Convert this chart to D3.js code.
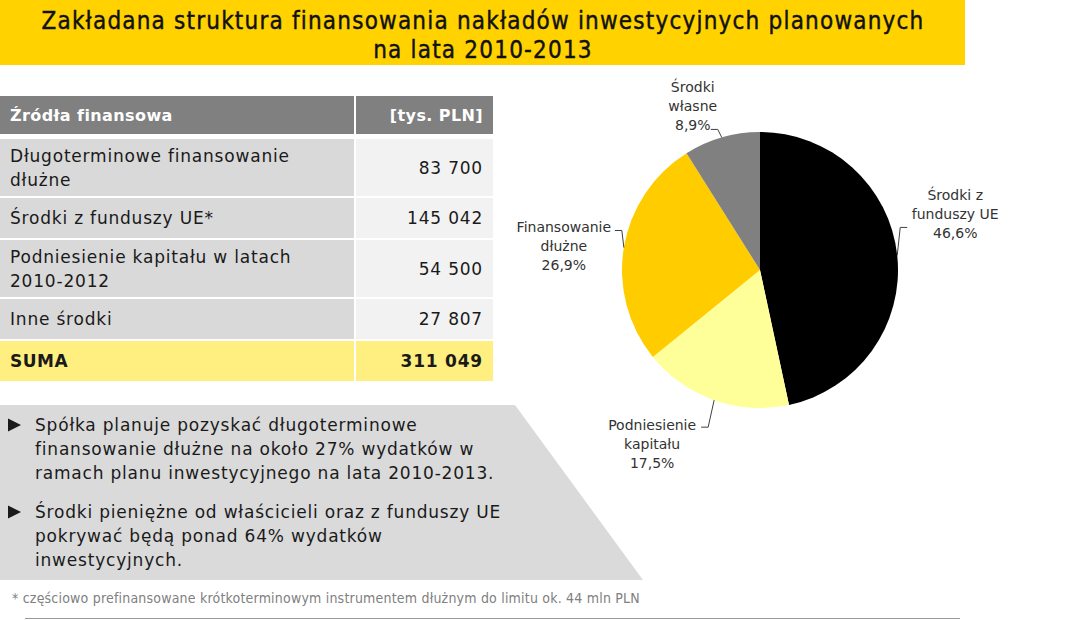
<!DOCTYPE html>
<html>
<head>
<meta charset="utf-8">
<script src="https://cdn.jsdelivr.net/npm/d3@7"></script>
<style>
  body { margin: 0; background: #fff; }
  svg { display: block; }
</style>
</head>
<body>
<svg id="chart"></svg>
<script>
const W = 1075, H = 620;

// dane
const titleLines = ["Zakładana struktura finansowania nakładów inwestycyjnych planowanych", "na lata 2010-2013"];
const headers = ["Źródła finansowa", "[tys. PLN]"];
const sources = [["Długoterminowe finansowanie", "dłużne"], ["Środki z funduszy UE*"], ["Podniesienie kapitału w latach", "2010-2012"], ["Inne środki"]];
const amounts = [83700, 145042, 54500, 27807];
const totalLabel = "SUMA";

const pieNames = [["Środki z", "funduszy UE"], ["Podniesienie", "kapitału"], ["Finansowanie", "dłużne"], ["Środki", "własne"]];
const pieAmounts = [145042, 54500, 83700, 27807];
const pieColors = ["#000000", "#FFFF99", "#FFCC00", "#808080"];

const bullets = [
  ["Spółka planuje pozyskać długoterminowe", "finansowanie dłużne na około 27% wydatków w", "ramach planu inwestycyjnego na lata 2010-2013."],
  ["Środki pieniężne od właścicieli oraz z funduszy UE", "pokrywać będą ponad 64% wydatków", "inwestycyjnych."]
];
const footnote = "* częściowo prefinansowane krótkoterminowym instrumentem dłużnym do limitu ok. 44 mln PLN";

const pl = d3.formatLocale({ decimal: ",", thousands: " ", grouping: [3], currency: ["", ""] });
const fmtNum = pl.format(",d");
const fmtPct = pl.format(".1f");

const svg = d3.select("#chart").attr("width", W).attr("height", H);
const FONT = "'DejaVu Sans', sans-serif";
const COND = "'DejaVu Sans Condensed', 'DejaVu Sans', sans-serif";

// tytuł
svg.append("rect").attr("x", 0).attr("y", 0).attr("width", 965).attr("height", 65).attr("fill", "#FFD200");
svg.selectAll("text.title").data(titleLines).enter().append("text")
  .attr("class", "title")
  .attr("x", 483).attr("y", (d, i) => 29 + i * 29)
  .attr("text-anchor", "middle")
  .style("font-family", COND)
  .style("font-stretch", "condensed")
  .style("font-size", "24px")
  .style("letter-spacing", "1.2px")
  .attr("fill", "#111").attr("stroke", "#111").attr("stroke-width", 0.4)
  .text(d => d);

// tabela
const colSplit = 354, col2 = 356, tableRight = 493;
const tbl = svg.append("g");
tbl.append("rect").attr("x", 0).attr("y", 96).attr("width", colSplit).attr("height", 38).attr("fill", "#808080");
tbl.append("rect").attr("x", col2).attr("y", 96).attr("width", tableRight - col2).attr("height", 38).attr("fill", "#808080");
tbl.append("text").attr("x", 10).attr("y", 121).text(headers[0])
  .style("font-family", FONT).style("font-size", "16px").style("font-weight", "bold")
  .style("letter-spacing", "0.4px").attr("fill", "#fff");
tbl.append("text").attr("x", 483).attr("y", 121).attr("text-anchor", "end").text(headers[1])
  .style("font-family", FONT).style("font-size", "16px").style("font-weight", "bold")
  .style("letter-spacing", "0.4px").attr("fill", "#fff");

const rows = sources.map((s, i) => ({ lines: s, value: amounts[i], total: false }));
rows.push({ lines: [totalLabel], value: d3.sum(amounts), total: true });
let yy = 139;
rows.forEach(r => { r.h = r.lines.length === 2 ? 57 : 40; r.y = yy; yy += r.h + 2; });

const rg = tbl.selectAll("g.row").data(rows).enter().append("g").attr("class", "row")
  .attr("transform", d => `translate(0,${d.y})`);
rg.append("rect").attr("x", 0).attr("width", colSplit).attr("height", d => d.h)
  .attr("fill", d => d.total ? "#FFEF80" : "#D9D9D9");
rg.append("rect").attr("x", col2).attr("width", tableRight - col2).attr("height", d => d.h)
  .attr("fill", d => d.total ? "#FFEF80" : "#F2F2F2");
rg.each(function (d) {
  const g = d3.select(this);
  const n = d.lines.length;
  g.selectAll("text.lab").data(d.lines).enter().append("text")
    .attr("x", 10)
    .attr("y", (t, i) => d.h / 2 + 6 + (i - (n - 1) / 2) * 24)
    .style("font-family", FONT).style("font-size", "17px")
    .style("font-weight", d.total ? "bold" : "normal")
    .style("letter-spacing", d.total ? "0.5px" : "0.8px")
    .attr("fill", "#1a1a1a")
    .text(t => t);
  g.append("text").attr("x", 483).attr("y", d.h / 2 + 6).attr("text-anchor", "end")
    .style("font-family", FONT).style("font-size", "17px")
    .style("font-weight", d.total ? "bold" : "normal")
    .style("letter-spacing", "0.8px")
    .attr("fill", "#1a1a1a")
    .text(fmtNum(d.value));
});

// panel z punktami
svg.append("path").attr("d", "M0,405 L515,405 L643,580 L0,580 Z").attr("fill", "#DADADA");
const bg = svg.selectAll("g.bullet").data(bullets).enter().append("g").attr("class", "bullet")
  .attr("transform", (d, i) => `translate(0,${[425, 512][i]})`);
bg.append("path").attr("d", "M8,-6.5 L21,0 L8,6.5 Z").attr("fill", "#1a1a1a");
bg.selectAll("text").data(d => d).enter().append("text")
  .attr("x", 35).attr("y", (d, i) => 6 + i * 24)
  .style("font-family", FONT).style("font-size", "17px")
  .style("letter-spacing", "0.8px").attr("fill", "#1a1a1a")
  .text(d => d);

// wykres kołowy
const cx = 760, cy = 270, R = 138;
const pie = d3.pie().sort(null).value(d => d)(pieAmounts);
const arc = d3.arc().innerRadius(0).outerRadius(R);
const total = d3.sum(pieAmounts);
const pg = svg.append("g").attr("transform", `translate(${cx},${cy})`);
pg.selectAll("path.slice").data(pie).enter().append("path").attr("class", "slice")
  .attr("d", arc).attr("fill", (d, i) => pieColors[i]);

// układ etykiet: załamanie linii względem krawędzi, koniec linii, środek tekstu, pierwsza linia
const labelLayout = [
  { ex: 3, ey: -28, hx: 7, tx: 48, ty: -27 },
  { ex: -6, ey: 27, hx: -7, tx: -49, ty: 3 },
  { ex: -2, ey: -17, hx: -7, tx: -51, ty: 1 },
  { ex: -4, ey: -8, hx: -7, tx: -18, ty: -37 }
];
pie.forEach((d, i) => {
  const a = (d.startAngle + d.endAngle) / 2;
  const px = Math.sin(a) * R, py = -Math.cos(a) * R;
  const L = labelLayout[i];
  const ex = px + L.ex, ey = py + L.ey, hx = ex + L.hx;
  pg.append("polyline").attr("points", `${px},${py} ${ex},${ey} ${hx},${ey}`)
    .attr("fill", "none").attr("stroke", "#404040").attr("stroke-width", 1);
  const lines = pieNames[i].concat([fmtPct(d.value / total * 100) + "%"]);
  pg.append("g").selectAll("text").data(lines).enter().append("text")
    .attr("x", hx + L.tx).attr("y", (t, k) => ey + L.ty + k * 19)
    .attr("text-anchor", "middle")
    .style("font-family", FONT).style("font-size", "14px").attr("fill", "#333")
    .text(t => t);
});

// przypis
svg.append("text").attr("x", 12).attr("y", 603).text(footnote)
  .style("font-family", COND)
  .style("font-stretch", "condensed")
  .style("font-size", "14px").style("letter-spacing", "0.2px").attr("fill", "#808080");
svg.append("line").attr("x1", 25).attr("x2", 960).attr("y1", 618.5).attr("y2", 618.5)
  .attr("stroke", "#999").attr("stroke-width", 1);
</script>
</body>
</html>
